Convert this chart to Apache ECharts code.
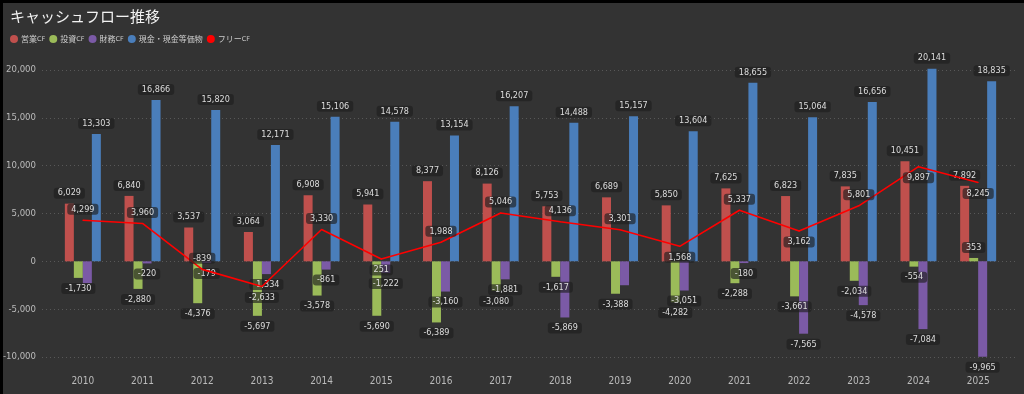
<!DOCTYPE html>
<html>
<head>
<meta charset="utf-8">
<script src="https://cdn.jsdelivr.net/npm/echarts@6/dist/echarts.min.js"></script>
<style>
html,body{margin:0;padding:0;background:#333;}
#chart{position:absolute;left:0;top:0;width:1024px;height:394px;}
#bt{position:absolute;left:0;top:0;width:1024px;height:3px;background:#000;z-index:5;}
#bl{position:absolute;left:0;top:0;width:3px;height:394px;background:#000;z-index:5;}
</style>
</head>
<body>
<div id="chart"></div>
<div id="bt"></div><div id="bl"></div>
<script>
const years = ['2010','2011','2012','2013','2014','2015','2016','2017','2018','2019','2020','2021','2022','2023','2024','2025'];
const operatingCF = [6029, 6840, 3537, 3064, 6908, 5941, 8377, 8126, 5753, 6689, 5850, 7625, 6823, 7835, 10451, 7892];
const investingCF = [-1730, -2880, -4376, -5697, -3578, -5690, -6389, -3080, -1617, -3388, -4282, -2288, -3661, -2034, -554, 353];
const financingCF = [-2300, -220, -179, -1334, -861, -1222, -3160, -1881, -5869, -2500, -3051, -180, -7565, -4578, -7084, -9965];
const cashEquiv = [13303, 16866, 15820, 12171, 15106, 14578, 13154, 16207, 14488, 15157, 13604, 18655, 15064, 16656, 20141, 18835];
const freeCF = [4299, 3960, -839, -2633, 3330, 251, 1988, 5046, 4136, 3301, 1568, 5337, 3162, 5801, 9897, 8245];
const yTicks = { min: -10000, max: 20000, interval: 5000 };

const fmt = v => Number(v).toLocaleString('en-US');
const labelBase = {
  show: true, color: '#dddddd', fontSize: 9, fontFamily: 'DejaVu Sans Condensed, Roboto, sans-serif',
  backgroundColor: 'rgba(30,30,30,0.65)', padding: [1, 4, 1, 4], borderRadius: 3, distance: 5,
  formatter: p => fmt(p.value)
};
function barData(arr, hidden) {
  return arr.map((v, i) => ({
    value: v,
    label: { position: v >= 0 ? 'top' : 'bottom', show: !(hidden && hidden.includes(i)) }
  }));
}
const fcfBelow = [3, 5, 10, 12, 14, 15];
const colors = ['#c0504d', '#9bbb59', '#7b5aa6', '#4a7ebb', '#ff0000'];
function bar(name, arr, color, hidden) {
  return {
    name, type: 'bar', xAxisIndex: 1, yAxisIndex: 1, barWidth: 9, barGap: '0%', clip: false,
    itemStyle: { color }, label: labelBase, data: barData(arr, hidden), z: 2
  };
}
const chart = echarts.init(document.getElementById('chart'), null, { renderer: 'canvas' });
chart.setOption({
  backgroundColor: '#333333',
  animation: false,
  title: {
    text: 'キャッシュフロー推移', left: 5, top: 4,
    textStyle: { color: '#f2f2f2', fontSize: 15, fontWeight: 'normal', fontFamily: 'Noto Sans CJK JP' }
  },
  legend: {
    left: 5, top: 30, itemWidth: 8, itemHeight: 8, itemGap: 4, icon: 'circle',
    formatter: name => name.replace('CF', '{s|CF}'),
    textStyle: { color: '#cccccc', fontSize: 8, fontFamily: 'Noto Sans CJK JP', padding: [0, 0, 0, -2],
      rich: { s: { fontSize: 6.5, color: '#cccccc', fontFamily: 'DejaVu Sans, sans-serif' } } },
    data: ['営業CF', '投資CF', '財務CF', '現金・現金等価物', 'フリーCF']
  },
  grid: [
    { left: 40, right: 7, top: 70, bottom: 37 },
    { left: 53, right: 16, top: 70, bottom: 37 }
  ],
  xAxis: [
    { type: 'category', gridIndex: 0, data: years, show: false },
    { type: 'category', gridIndex: 1, data: years,
      axisLine: { show: false }, axisTick: { show: false },
      axisLabel: { color: '#bbbbbb', fontSize: 10, margin: 19, fontFamily: 'DejaVu Sans Condensed, sans-serif' } }
  ],
  yAxis: [
    { type: 'value', gridIndex: 0, min: yTicks.min, max: yTicks.max, interval: yTicks.interval,
      axisLine: { show: false }, axisTick: { show: false },
      axisLabel: { color: '#bbbbbb', fontSize: 9.5, margin: 6, formatter: v => fmt(v), fontFamily: 'DejaVu Sans Condensed, sans-serif' },
      splitLine: { lineStyle: { color: '#5a5a5a', type: [1, 3], width: 1 } } },
    { type: 'value', gridIndex: 1, min: yTicks.min, max: yTicks.max, interval: yTicks.interval, show: false,
      splitLine: { show: false } }
  ],
  series: [
    bar('営業CF', operatingCF, colors[0]),
    bar('投資CF', investingCF, colors[1]),
    bar('財務CF', financingCF, colors[2], [0, 9]),
    bar('現金・現金等価物', cashEquiv, colors[3]),
    {
      name: 'フリーCF', type: 'line', xAxisIndex: 1, yAxisIndex: 1, z: 5,
      symbol: 'circle', symbolSize: 1, showSymbol: true,
      lineStyle: { color: colors[4], width: 1.6 }, itemStyle: { color: colors[4] },
      label: Object.assign({}, labelBase, { distance: 5 }),
      labelLayout: { hideOverlap: false },
      data: freeCF.map((v, i) => ({ value: v, label: { position: fcfBelow.includes(i) ? 'bottom' : 'top' } }))
    }
  ]
});
</script>
</body>
</html>
